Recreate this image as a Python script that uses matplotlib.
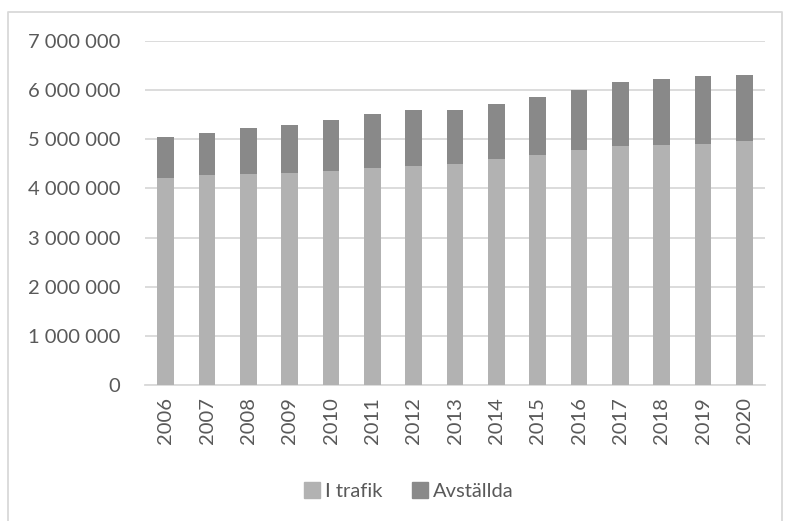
import numpy as np
import matplotlib.pyplot as plt
from matplotlib.lines import Line2D
from matplotlib.ticker import FuncFormatter

plt.rcParams['font.family'] = ['Lato', 'DejaVu Sans']

# data
years = ['2006', '2007', '2008', '2009', '2010', '2011', '2012', '2013',
         '2014', '2015', '2016', '2017', '2018', '2019', '2020']
i_trafik = [4210000, 4270000, 4290000, 4320000, 4355000, 4410000, 4450000, 4500000,
            4590000, 4675000, 4780000, 4860000, 4880000, 4900000, 4960000]
totalt = [5040000, 5130000, 5220000, 5285000, 5385000, 5510000, 5600000, 5595000,
          5710000, 5860000, 6010000, 6165000, 6220000, 6280000, 6300000]
avstallda = [t - i for t, i in zip(totalt, i_trafik)]

light = '#b2b2b2'
dark = '#898989'
text_col = '#595959'
grid_col = '#d9d9d9'

W, H = 785, 521
fig = plt.figure(figsize=(W / 100, H / 100), dpi=100)
ax = fig.add_axes([145 / W, 1 - 385 / H, 620 / W, 344 / H])

x = np.arange(len(years))
ax.bar(x, i_trafik, width=0.4, color=light, label='I trafik', zorder=3)
ax.bar(x, avstallda, width=0.4, bottom=i_trafik, color=dark, label='Avställda', zorder=3)

ax.set_xlim(-0.5, len(years) - 0.5)
ax.set_ylim(0, 7000000)
ax.set_yticks(np.arange(0, 7000001, 1000000))
ax.yaxis.set_major_formatter(FuncFormatter(lambda v, p: f'{int(v):,}'.replace(',', ' ')))
ax.set_xticks(x)
ax.set_xticklabels(years, rotation=90)

ax.grid(axis='y', color=grid_col, linewidth=1.3, zorder=0)
for s in ['top', 'right', 'left']:
    ax.spines[s].set_visible(False)
ax.spines['bottom'].set_color(grid_col)
ax.spines['bottom'].set_linewidth(1.3)
ax.tick_params(axis='both', length=0, labelsize=14.5, colors=text_col)
ax.tick_params(axis='y', pad=18)
ax.tick_params(axis='x', pad=9)

# legend below the plot
handles = [Line2D([], [], marker='s', linestyle='none', markersize=11, color=light),
           Line2D([], [], marker='s', linestyle='none', markersize=11, color=dark)]
fig.legend(handles, ['I trafik', 'Avställda'], loc='center', ncol=2,
           bbox_to_anchor=(408 / W, 1 - 491 / H), frameon=False,
           prop={'size': 14.5}, labelcolor=text_col, handletextpad=0.2,
           columnspacing=1.4, handlelength=0.9)

# outer chart border
bx = [8 / W, 8 / W, 782 / W, 782 / W]
by = [0, 1 - 12 / H, 1 - 12 / H, 0]
fig.add_artist(Line2D(bx, by, color=grid_col, linewidth=1.3))

fig.savefig('out.png', dpi=100)
